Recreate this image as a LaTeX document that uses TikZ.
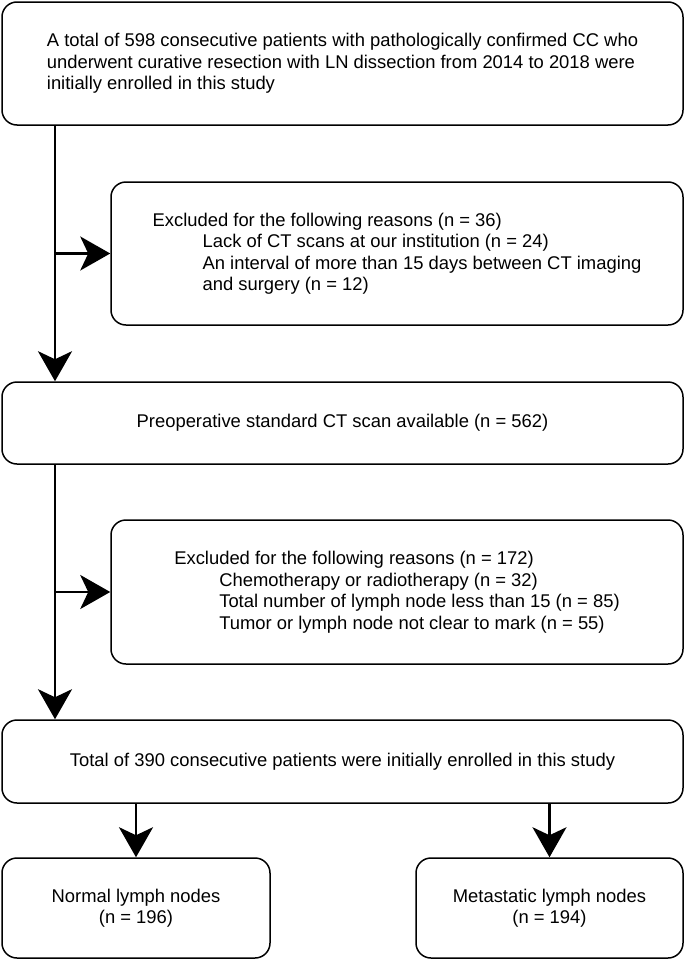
\documentclass[tikz,border=0pt]{standalone}
\usepackage{fontspec}
\setmainfont{Liberation Sans}
\usetikzlibrary{arrows.meta}

\begin{document}
\begin{tikzpicture}[x=1pt,y=-1pt,
  box/.style={draw, line width=1.5pt, rounded corners=15pt, inner sep=0pt,
    font=\fontsize{18.4pt}{21.5pt}\selectfont},
  flow/.style={line width=2.5pt, -{Stealth[length=30pt,width=34pt,inset=8pt]}}]
  \useasboundingbox (0,0) rectangle (685,961);
  \coordinate (spine) at (55,0);
  \node[box, align=left, minimum width=681pt, minimum height=123pt] (total598) at (342.5,63.5)
    {A total of 598 consecutive patients with pathologically confirmed CC who\\
     underwent curative resection with LN dissection from 2014 to 2018 were\\
     initially enrolled in this study};
  \node[box, align=left, minimum width=572pt, minimum height=143pt] (excl36) at (397,253.5)
    {Excluded for the following reasons (n = 36)\\
     \hspace*{50pt}Lack of CT scans at our institution (n = 24)\\
     \hspace*{50pt}An interval of more than 15 days between CT imaging\\
     \hspace*{50pt}and surgery (n = 12)};
  \node[box, minimum width=681pt, minimum height=82pt] (ct562) at (342.5,423)
    {Preoperative standard CT scan available (n = 562)};
  \node[box, align=left, minimum width=572pt, minimum height=144pt] (excl172) at (397,592)
    {Excluded for the following reasons (n = 172)\\
     \hspace*{45pt}Chemotherapy or radiotherapy (n = 32)\\
     \hspace*{45pt}Total number of lymph node less than 15 (n = 85)\\
     \hspace*{45pt}Tumor or lymph node not clear to mark (n = 55)};
  \node[box, minimum width=681pt, minimum height=83pt] (total390) at (342.5,761.5)
    {Total of 390 consecutive patients were initially enrolled in this study};
  \node[box, align=center, minimum width=268pt, minimum height=100pt] (normal) at (136,908)
    {Normal lymph nodes\\(n = 196)};
  \node[box, align=center, minimum width=267pt, minimum height=100pt] (meta) at (549.5,908)
    {Metastatic lymph nodes\\(n = 194)};
  % connectors
  \draw[flow] (total598.south -| spine) -- (ct562.north -| spine);
  \draw[flow] (excl36.west -| spine) -- (excl36.west);
  \draw[flow] (ct562.south -| spine) -- (total390.north -| spine);
  \draw[flow] (excl172.west -| spine) -- (excl172.west);
  \draw[flow] (total390.south -| normal.north) -- (normal.north);
  \draw[flow] (total390.south -| meta.north) -- (meta.north);
\end{tikzpicture}
\end{document}
